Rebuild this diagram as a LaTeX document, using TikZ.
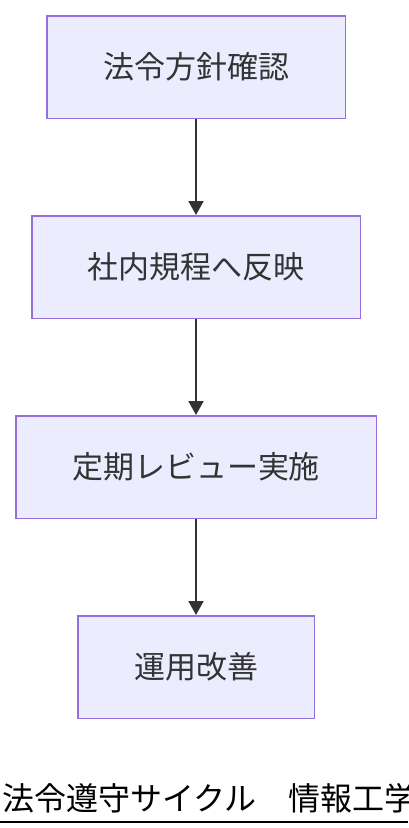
\documentclass[tikz,border=0pt]{standalone}
\usepackage{fontspec}
\setmainfont{Noto Sans CJK JP}
\usetikzlibrary{arrows.meta, positioning}
\definecolor{boxfill}{HTML}{ECECFF}
\definecolor{boxline}{HTML}{9370DB}
\definecolor{ink}{HTML}{333333}

\begin{document}
\begin{tikzpicture}[x=1pt, y=-1pt,
    stepbox/.style={draw=boxline, fill=boxfill, line width=1.5pt, minimum height=102.5pt, text=ink, font=\fontsize{31}{31}\selectfont},
    flow/.style={draw=ink, line width=2pt, -{Triangle[length=14pt, width=15pt]}}]
    % Frame
    \useasboundingbox (0,0) rectangle (408,828);

    % Steps of the cycle
    \node[stepbox, minimum width=298.5pt] (check) at (196,67) {法令方針確認};
    \node[stepbox, minimum width=328.5pt, below=96pt of check] (rules) {社内規程へ反映};
    \node[stepbox, minimum width=360.5pt, below=96pt of rules] (review) {定期レビュー実施};
    \node[stepbox, minimum width=236.5pt, below=96pt of review] (improve) {運用改善};

    % Arrows
    \draw[flow] (check) -- (rules);
    \draw[flow] (rules) -- (review);
    \draw[flow] (review) -- (improve);

    % Caption
    \node[anchor=base west, inner sep=0pt, font=\fontsize{32}{32}\selectfont] (caption) at (2,810) {法令遵守サイクル　情報工学};
    \draw[line width=2pt] (0,822) -- (408,822);
\end{tikzpicture}
\end{document}
